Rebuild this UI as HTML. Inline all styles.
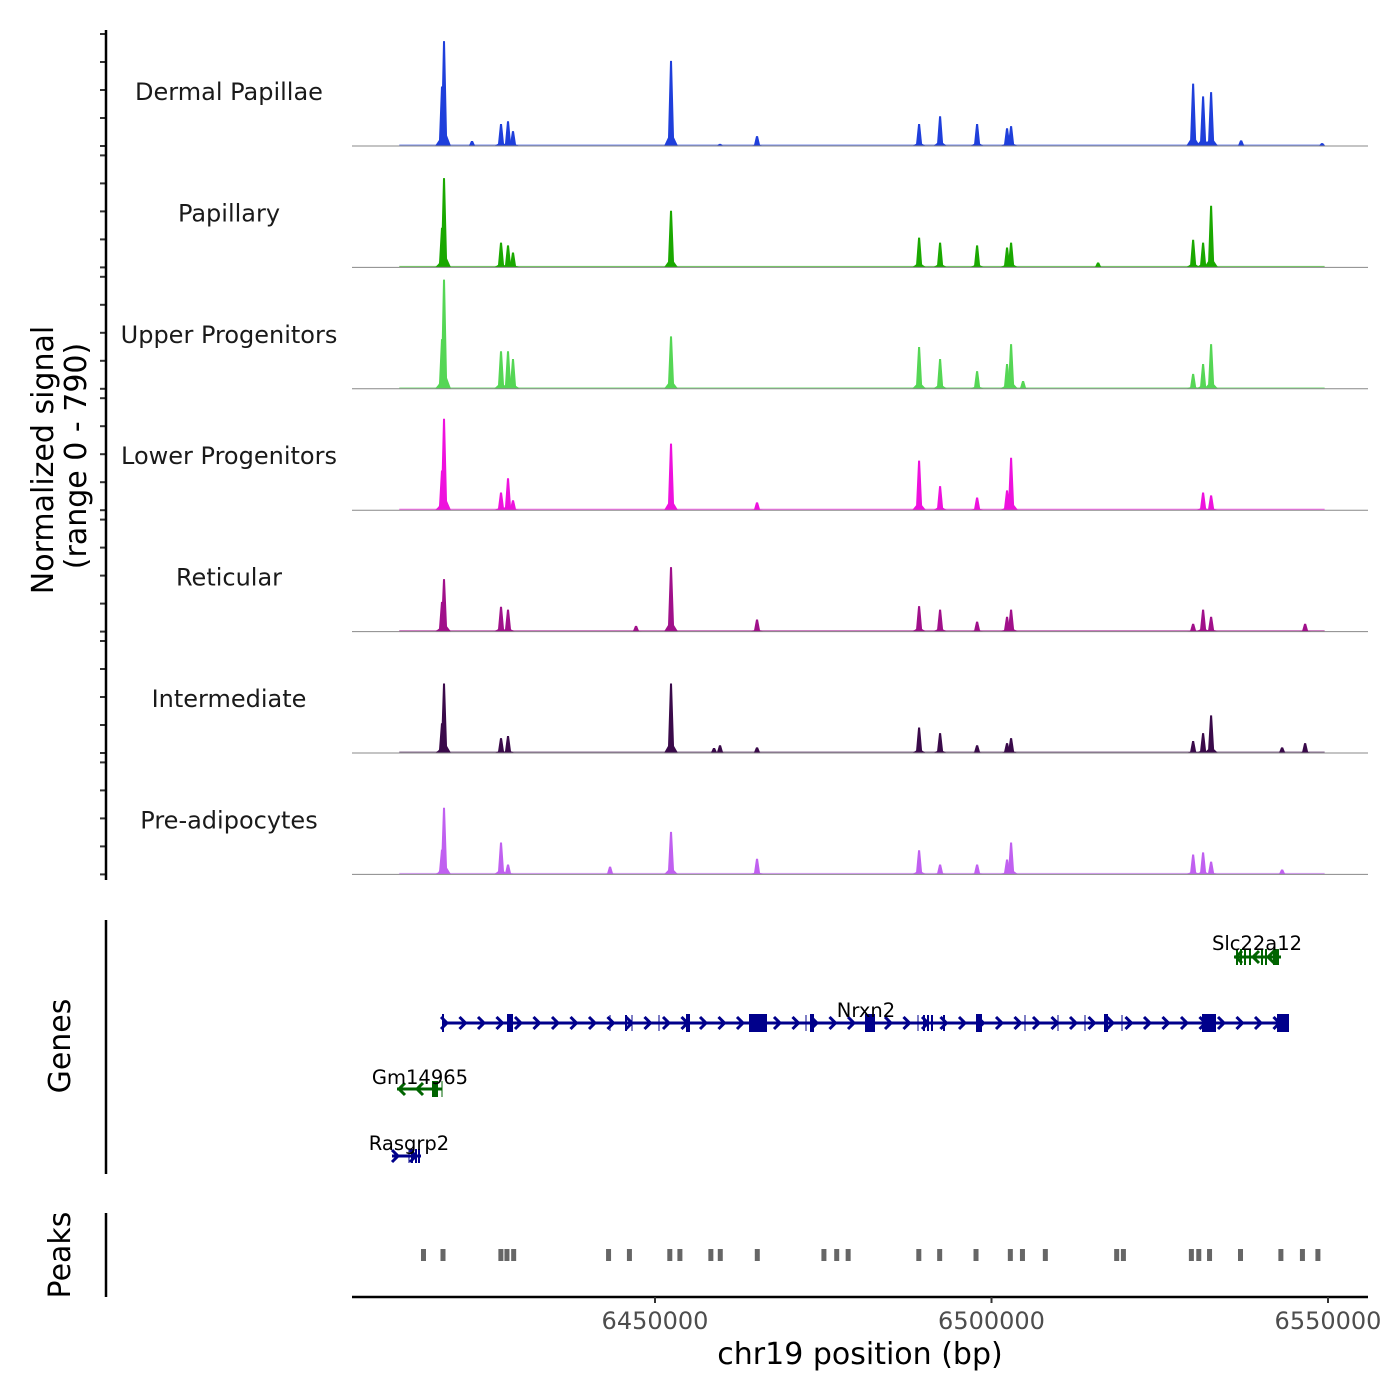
<!DOCTYPE html>
<html><head><meta charset="utf-8"><style>
html,body{margin:0;padding:0;background:#fff;}
svg{display:block;font-family:"DejaVu Sans","Liberation Sans",sans-serif;}
</style></head><body>
<svg id="chart" width="1400" height="1400" viewBox="0 0 1400 1400" xmlns="http://www.w3.org/2000/svg">
<g id="tracks"></g>
<g id="genes"></g>
<g id="peaks"></g>
<g id="axes"></g>
</svg>
<script>
const xDomain = [6404978, 6555944];
const signalMax = 790;
const trackNames = ["Dermal Papillae","Papillary","Upper Progenitors","Lower Progenitors","Reticular","Intermediate","Pre-adipocytes"];
const trackColors = ["#1f3fdb","#1aa800","#55d655","#ee11dd","#a0108a","#3a0a4a","#c060f0"];
const peakPositions = [6418350,6418650,6422810,6427120,6428160,6428900,6443320,6447180,6452380,6458770,6459660,6465160,6489240,6492360,6497860,6502310,6502910,6504690,6515840,6529960,6531440,6532630,6537090,6543180,6546600,6549120];
const sigDermal = [420,740,35,155,175,105,0,0,600,0,15,70,155,210,155,125,140,0,0,440,350,380,40,0,0,20];
const sigPapillary = [280,630,0,175,155,105,0,0,400,0,0,0,210,175,155,140,175,0,35,195,175,435,0,0,0,0];
const sigUpper = [350,770,0,265,265,210,0,0,370,0,0,0,295,210,125,175,315,55,0,105,175,315,0,0,0,0];
const sigLower = [280,645,0,125,225,70,0,0,470,0,0,55,350,170,90,140,370,0,0,0,125,105,0,0,0,0];
const sigReticular = [210,370,0,175,155,0,0,40,455,0,0,85,180,155,70,105,155,0,0,55,155,105,0,0,55,0];
const sigIntermediate = [210,490,0,105,120,0,0,0,490,35,55,40,180,140,55,70,105,0,0,85,140,265,0,40,70,0];
const sigPreadipo = [175,470,0,225,70,0,55,0,300,0,0,110,170,70,70,105,225,0,0,140,155,90,0,35,0,0];
const peakRegions = [6415600,6418500,6427100,6428000,6429000,6443100,6446200,6452200,6453700,6458300,6459700,6465200,6475100,6477000,6478700,6489200,6492300,6497700,6502800,6504600,6508000,6518600,6519600,6529700,6530800,6532400,6537000,6543000,6546200,6548500];
const xTicks = [6450000,6500000,6550000];
const xTickLabels = ["6450000","6500000","6550000"];
const NS="http://www.w3.org/2000/svg";
const X0=352, X1=1368;
function xs(bp){return X0+(bp-xDomain[0])/(xDomain[1]-xDomain[0])*(X1-X0);}
function el(tag,attrs,parent){const e=document.createElementNS(NS,tag);for(const k in attrs)e.setAttribute(k,attrs[k]);parent.appendChild(e);return e;}
const allSig=[sigDermal,sigPapillary,sigUpper,sigLower,sigReticular,sigIntermediate,sigPreadipo];
const tracksG=document.getElementById('tracks');
const axesG=document.getElementById('axes');
const trackH=121.4, firstBase=146, plotH=112;
function ys(v,base){return base-v/signalMax*plotH;}
allSig.forEach((sig,t)=>{
  const base=firstBase+t*trackH;
  const g=el('g',{},tracksG);
  
  
  const nb=el('rect',{x:xs(6412000),y:base-1.5,width:xs(6549500)-xs(6412000),height:1.5,fill:trackColors[t],opacity:0.6},g);
  
  
  sig.forEach((v,i)=>{
    if(!v)return;
    const x=xs(peakPositions[i]);
    const d=`M${x-7},${base} L${x-3},${ys(v*0.1,base)} L${x-1},${ys(v,base)} L${x+1},${ys(v,base)} L${x+3},${ys(v*0.1,base)} L${x+7},${base} Z`;
    const p=el('path',{d:d,fill:trackColors[t]},g);
    
    
  });
  const bl=el('line',{x1:X0,x2:X1,y1:base,y2:base,stroke:'#888','stroke-width':1},g);
  
  
  const lab=el('text',{x:229,y:base-46,'text-anchor':'middle','font-size':24,fill:'#1a1a1a'},g);
  lab.textContent=trackNames[t];
  
  
  const top=base-112;
  for(let k=0;k<5;k++){
    const tk=el('line',{x1:100,x2:106,y1:top+k*28,y2:top+k*28,stroke:'#333','stroke-width':2},axesG);
    
    
  }
});
let yl=el('line',{x1:106,x2:106,y1:30,y2:880,stroke:'#000','stroke-width':2.5},axesG);


let yt=el('text',{transform:'translate(53,460) rotate(-90)','text-anchor':'middle','font-size':30,fill:'#000'},axesG);
yt.textContent='Normalized signal';


let yt2=el('text',{transform:'translate(86,456) rotate(-90)','text-anchor':'middle','font-size':30,fill:'#000'},axesG);
yt2.textContent='(range 0 - 790)';



const genesG=document.getElementById('genes');
const NAVY='#00008b', GREEN='#006400';
function gene(name,y,x1,x2,dir,color,exons,chevs,lx,ly){
  const g=el('g',{},genesG);
  
  
  el('line',{x1:x1,x2:x2,y1:y,y2:y,stroke:color,'stroke-width':3},g);
  chevs.forEach(cx=>{
    const d=dir>0?`M${cx-4},${y-6} L${cx+2},${y} L${cx-4},${y+6}`:`M${cx+4},${y-6} L${cx-2},${y} L${cx+4},${y+6}`;
    el('path',{d:d,stroke:color,'stroke-width':3,fill:'none'},g);
  });
  exons.forEach(e=>{el('rect',{x:e[0]-e[1]/2,y:y-e[2]/2,width:e[1],height:e[2],fill:color},g);});
  const t=el('text',{x:lx,y:ly,'text-anchor':'middle','font-size':19.5,fill:'#000'},g);
  t.textContent=name;
  
  
}
const nrxChev=[];for(let c=445;c<1285;c+=18.5)nrxChev.push(c);
gene('Nrxn2',1023,442,1288,1,NAVY,[[443,2,18],[510,6,18],[610,1,16],[626,2,16],[632,1,16],[659,1,16],[688,4,18],[758,18,18],[806,1,16],[812,4,18],[870,10,18],[918,1,16],[924,2,16],[928,2,16],[932,2,16],[944,2,16],[979,6,18],[1025,1,16],[1058,1,16],[1085,1,16],[1106,4,18],[1122,1,16],[1209,14,18],[1283,12,18]],nrxChev,866,1017);
gene('Slc22a12',957,1234,1281,-1,GREEN,[[1237,2,16],[1241,2,16],[1245,2,16],[1250,2,16],[1262,2,16],[1266,2,16],[1276,6,16]],[1238,1255,1270],1257,950);
gene('Gm14965',1089,397,442,-1,GREEN,[[435,6,16],[442,1,16]],[401,419],420,1084);
gene('Rasgrp2',1156,392,421,1,NAVY,[[409,1,14],[412,2,14],[416,2,14],[419,2,14]],[396,414],409,1150);

let gl=el('line',{x1:106,x2:106,y1:920,y2:1174,stroke:'#000','stroke-width':2.5},axesG);


let gt=el('text',{transform:'translate(70,1046) rotate(-90)','text-anchor':'middle','font-size':30,fill:'#000'},axesG);
gt.textContent='Genes';



const peaksG=document.getElementById('peaks');
peakRegions.forEach(bp=>{
  const r=el('rect',{x:xs(bp)-2.5,y:1249,width:5,height:12,fill:'#666'},peaksG);
  
  
});
let pl=el('line',{x1:106,x2:106,y1:1213,y2:1297,stroke:'#000','stroke-width':2.5},axesG);


let pt=el('text',{transform:'translate(70,1255) rotate(-90)','text-anchor':'middle','font-size':30,fill:'#000'},axesG);
pt.textContent='Peaks';



let xl=el('line',{x1:X0,x2:X1,y1:1297,y2:1297,stroke:'#000','stroke-width':2.5},axesG);


xTicks.forEach((v,i)=>{
  const x=xs(v);
  const tk=el('line',{x1:x,x2:x,y1:1297,y2:1303,stroke:'#333','stroke-width':2},axesG);
  
  
  const tl=el('text',{x:x,y:1329,'text-anchor':'middle','font-size':24,fill:'#4d4d4d'},axesG);
  tl.textContent=xTickLabels[i];
  
  
});
let xt=el('text',{x:860,y:1364,'text-anchor':'middle','font-size':30,fill:'#000'},axesG);
xt.textContent='chr19 position (bp)';


</script>
</body></html>
